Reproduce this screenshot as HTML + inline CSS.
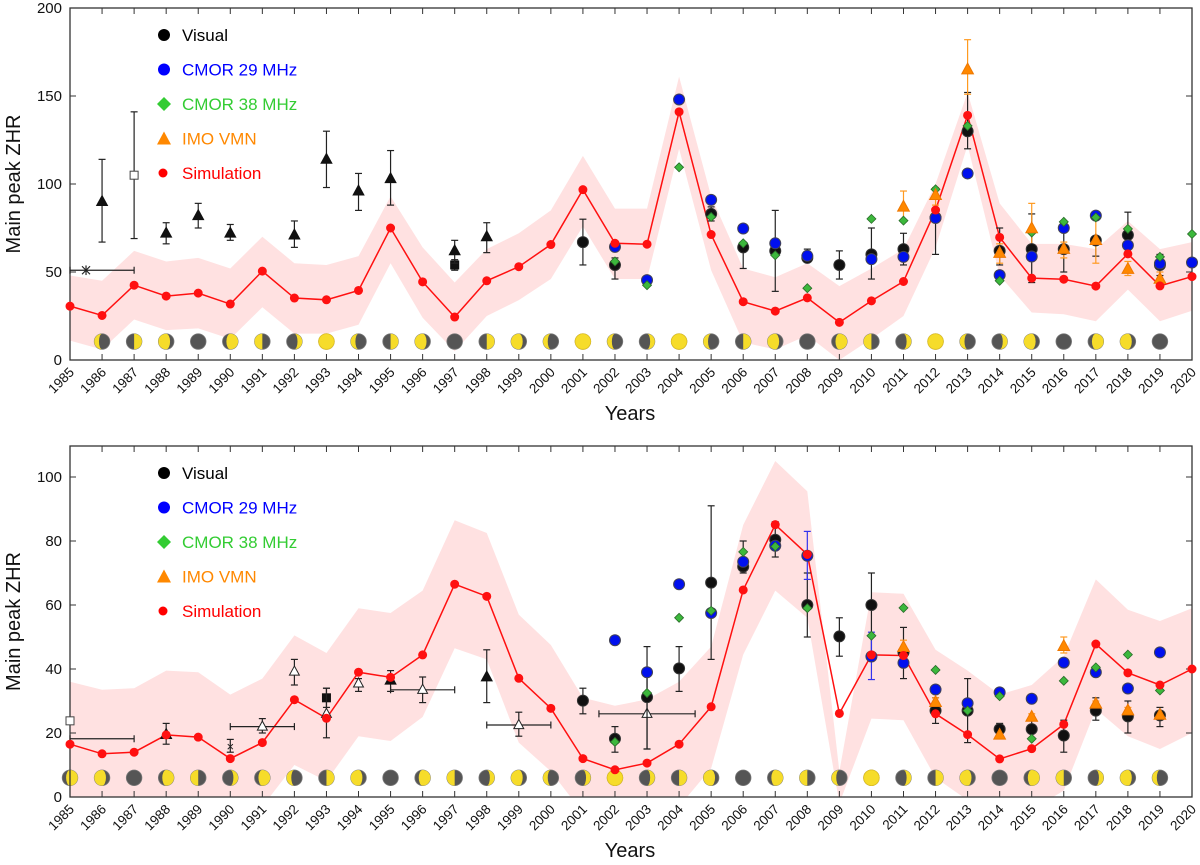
<!DOCTYPE html>
<html><head><meta charset="utf-8">
<style>
html,body{margin:0;padding:0;background:#fff;}
svg{display:block;font-family:"Liberation Sans","DejaVu Sans",sans-serif;}
</style></head>
<body>
<svg id="chart" width="1200" height="865" viewBox="0 0 1200 865"></svg>
<script>
// ===== Top panel data =====
const years = [1985,1986,1987,1988,1989,1990,1991,1992,1993,1994,1995,1996,1997,1998,1999,2000,2001,2002,2003,2004,2005,2006,2007,2008,2009,2010,2011,2012,2013,2014,2015,2016,2017,2018,2019,2020];
const topSim = [30.6,25.3,42.5,36.3,38,31.8,50.5,35.2,34.2,39.5,75,44.4,24.4,45,53,65.6,96.8,66.3,65.8,141,71.3,33.1,27.8,35.3,21.4,33.6,44.6,85.2,139,69.7,46.5,45.9,42,60.3,42.1,47.4];
const topUpper = [48,45,62,56,58,52,70,55,54,59,93,64,44,63,72,85,116,86,86,161,93,52,47,55,42,52,63,100,152,89,66,66,63,79,63,67];
const topLower = [11,6,23,17,18,12,30,15,15,20,55,24,5,25,34,46,76,46,46,120,51,10,6,14,0,12,25,64,122,48,27,26,22,40,22,28];
// [year, value, lo, hi]
const topVisual = [[2001,67,54,80],[2002,54,46,58],[2005,83,79,87],[2006,64,52,67],[2007,62,39,85],[2008,58,56,63],[2009,54,46,62],[2010,60,46,75],[2011,63,54,72],[2012,81,60,82],[2013,130,120,152],[2014,62,54,75],[2015,63,44,83],[2016,63,50,78],[2017,68,59,70],[2018,71,60,84],[2019,54,48,60]];
const topCmor29 = [[2002,64.3],[2003,45.4],[2004,148],[2005,91],[2006,74.7],[2007,66.3],[2008,59.2],[2010,57.3],[2011,58.6],[2012,80.7],[2013,106],[2014,48.2],[2015,58.8],[2016,75],[2017,82],[2018,65.2],[2019,54.8],[2020,55.4]];
const topCmor38 = [[2002,56],[2003,42.5],[2004,109.5],[2005,81.3],[2006,66.3],[2007,59.5],[2008,40.8],[2010,80.2],[2011,79.2],[2012,97],[2013,133],[2014,45],[2015,72.4],[2016,78.5],[2017,81],[2018,74.5],[2019,58.6],[2020,71.6]];
const topImo = [[2011,87,79,96],[2012,93.6,88,98],[2013,165,151,182],[2014,60.7,55,66],[2015,74.7,63,89],[2016,63,58,67],[2017,68,55,80],[2018,51.6,48,56],[2019,46,42,50]];
const topHistTri = [[1986,90,67,114],[1988,72,66,78],[1989,82,75,89],[1990,72,68,77],[1992,71,64,79],[1993,114,98,130],[1994,96,85,106],[1995,103,88,119],[1997,62,55,68],[1998,70,61,78]];
const topMoons = ['','cl','R','gl','N','gr','L','cr','F','cl','R','gl','N','R','gl','cl','F','cl','cr','F','cl','R','gl','N','gr','L','cr','F','cl','cr','gl','N','gr','gl','N',''];

// ===== Bottom panel data =====
const botSim = [16.5,13.5,14,19.4,18.7,12,17,30.4,24.6,39,37.4,44.4,66.5,62.7,37.1,27.7,12,8.5,10.6,16.5,28.2,64.7,85.1,75.8,26.1,44.4,44.2,26,19.5,11.9,15.1,22.7,47.8,38.8,35,40];
const botUpper = [36,33.5,34,39.5,39,32,37,50.5,45,59,57.5,64.5,86.5,82.5,57,47.5,31,28.5,30.5,36,47,85,105,95.5,8,64,63.5,46,39.5,32,35,44,68,58.5,55,59];
const botLower = [-3,-3,-3,-1,-1,-4,-3,10,5,19,17.5,25,46.5,43,17,8,-5,-8,-8,-3,9,44.5,64.5,56,-2,24.5,24,6,-1,-8,-4,2,27.5,19,15,20];
const botVisual = [[2001,30.1,26,34],[2002,18.2,14,22],[2003,31.2,15,47],[2004,40.2,33,47],[2005,67,43,91],[2006,72,70,80],[2007,80.4,75,86],[2008,60,50,70],[2009,50.2,44,56],[2010,60,44,70],[2011,45.2,37,53],[2012,27,23,31],[2013,27,17,37],[2014,21.2,19,23],[2015,21.2,18,24],[2016,19.2,14,24],[2017,27,24,31],[2018,25.2,20,30],[2019,25.5,22,28]];
const botCmor29 = [[2002,49],[2003,39],[2004,66.5],[2005,57.5],[2006,73.5],[2007,78.5],[2008,75.4],[2010,43.9],[2011,41.9],[2012,33.6],[2013,29.3],[2014,32.7],[2015,30.7],[2016,42],[2017,39],[2018,33.9],[2019,45.2]];
const botCmor29Err = [[2008,68,83],[2010,36.7,51.5]];
const botCmor38 = [[2002,17.2],[2003,32.5],[2004,56],[2005,58.2],[2006,76.6],[2007,78.3],[2008,59],[2010,50.4],[2011,59.1],[2012,39.7],[2013,27],[2014,31.5],[2015,18.2],[2016,36.3],[2017,40.5],[2018,44.5],[2019,33.3]];
const botImo = [[2011,46.8,44,49],[2012,29.6,28,31],[2014,19.4,19,20],[2015,25,24,26],[2016,47.1,45,50],[2017,29.1,28,30],[2018,27,26,28],[2019,25.6,25,26.5]];
const botFilledTri = [[1988,19.5,16.5,23],[1995,36.5,33,39.5],[1998,37.5,29.5,46]];
const botOpenTri = [[1991,22,20,24.5,1990,1992],[1992,39.2,35,43,0,0],[1993,26,18.5,34,0,0],[1994,35.5,33,37,0,0],[1996,33.5,29.5,37.5,1995,1997],[1999,22.5,19,26.5,1998,2000],[2003,26,15,38,2001.5,2004.5]];
const botMoons = ['gr','gl','N','gr','L','cr','gr','cl','R','gl','N','gr','L','cr','gl','cl','cr','F','cr','R','gl','N','gr','L','cl','F','cr','R','gl','N','gr','L','cr','gl','cl',''];

const NS='http://www.w3.org/2000/svg';
const svg=document.getElementById('chart');
function el(tag,attrs,parent){const e=document.createElementNS(NS,tag);for(const k in attrs)e.setAttribute(k,attrs[k]);(parent||svg).appendChild(e);return e;}

function panel(cfg){
  const X0=70,X1=1192;
  const x=y=>X0+(y-1985)*(X1-X0)/35;
  const yv=v=>cfg.yb-(v*cfg.scale);
  const g=el('g',{});
  
  
  const clip=el('clipPath',{id:cfg.name+'-clip'},g);
  el('rect',{x:X0,y:cfg.yt,width:X1-X0,height:cfg.yb-cfg.yt},clip);
  let pts=[];
  years.forEach((yr,i)=>pts.push(x(yr)+','+yv(cfg.upper[i])));
  for(let i=years.length-1;i>=0;i--)pts.push(x(years[i])+','+yv(Math.max(cfg.lower[i],-20)));
  const band=el('polygon',{points:pts.join(' '),fill:'#ffe1e1','clip-path':'url(#'+cfg.name+'-clip)'},g);
  
  
  cfg.moons.forEach((ph,i)=>{ if(!ph)return; drawMoon(g,x(years[i]),yv(cfg.moonV),7.8,ph);});
  const fr=el('rect',{x:X0,y:cfg.yt,width:X1-X0,height:cfg.yb-cfg.yt,fill:'none',stroke:'#333','stroke-width':1.3},g);
  
  
  years.forEach(yr=>{
    el('line',{x1:x(yr),x2:x(yr),y1:cfg.yb,y2:cfg.yb-6,stroke:'#333'},g);
    el('line',{x1:x(yr),x2:x(yr),y1:cfg.yt,y2:cfg.yt+6,stroke:'#333'},g);
    const t=el('text',{x:x(yr)+5,y:cfg.yb+13,'font-size':13.5,'text-anchor':'end',transform:`rotate(-45 ${x(yr)+5} ${cfg.yb+13})`,fill:'#111'},g);
    t.textContent=yr;
    
    
  });
  cfg.yticks.forEach(v=>{
    el('line',{x1:X0,x2:X0+6,y1:yv(v),y2:yv(v),stroke:'#333'},g);
    el('line',{x1:X1,x2:X1-6,y1:yv(v),y2:yv(v),stroke:'#333'},g);
    const t=el('text',{x:X0-8,y:yv(v)+5,'font-size':15,'text-anchor':'end',fill:'#111'},g);
    t.textContent=v;
    
    
  });
  const xt=el('text',{x:630,y:cfg.yb+60,'font-size':20,'text-anchor':'middle',fill:'#111'},g);
  xt.textContent='Years';
  
  
  const ymid=(cfg.yt+cfg.yb)/2;
  const yt=el('text',{x:20,y:ymid,'font-size':20,'text-anchor':'middle',transform:`rotate(-90 20 ${ymid})`,fill:'#111'},g);
  yt.textContent='Main peak ZHR';
  
  
  const lp=years.map((yr,i)=>x(yr)+','+yv(cfg.sim[i])).join(' ');
  const sl=el('polyline',{points:lp,fill:'none',stroke:'#ff1010','stroke-width':1.5},g);
  
  
  return {g,x,yv};
}

function errbar(g,x,y1,y2,col){
  el('line',{x1:x,x2:x,y1:y1,y2:y2,stroke:col,'stroke-width':1.2},g);
  el('line',{x1:x-3.5,x2:x+3.5,y1:y1,y2:y1,stroke:col,'stroke-width':1.2},g);
  el('line',{x1:x-3.5,x2:x+3.5,y1:y2,y2:y2,stroke:col,'stroke-width':1.2},g);
}
function hbar(g,x1,x2,y){
  el('line',{x1:x1,x2:x2,y1:y,y2:y,stroke:'#222','stroke-width':1.2},g);
  el('line',{x1:x1,x2:x1,y1:y-3.5,y2:y+3.5,stroke:'#222','stroke-width':1.2},g);
  el('line',{x1:x2,x2:x2,y1:y-3.5,y2:y+3.5,stroke:'#222','stroke-width':1.2},g);
}
function star(g,cx,cy,s){
  const a=el('g',{stroke:'#222','stroke-width':1.2},g);
  
  
  el('line',{x1:cx-s,x2:cx+s,y1:cy-s,y2:cy+s},a);
  el('line',{x1:cx-s,x2:cx+s,y1:cy+s,y2:cy-s},a);
  el('line',{x1:cx,x2:cx,y1:cy-s*1.2,y2:cy+s*1.2},a);
}
function tri(g,cx,cy,s,fill,stroke){
  return el('polygon',{points:`${cx},${cy-s} ${cx-s*0.9},${cy+s*0.65} ${cx+s*0.9},${cy+s*0.65}`,fill:fill,stroke:stroke,'stroke-width':1},g);
}
function diamond(g,cx,cy,s){
  return el('polygon',{points:`${cx},${cy-s} ${cx+s},${cy} ${cx},${cy+s} ${cx-s},${cy}`,fill:'#3cb83c',stroke:'#2a6a2a','stroke-width':0.8},g);
}
function drawMoon(g,cx,cy,r,ph){
  const m=el('g',{},g);
  
  
  el('circle',{cx:cx,cy:cy,r:r,fill:'#555',stroke:'#777','stroke-width':0.8},m);
  if(ph==='N')return;
  if(ph==='F'){el('circle',{cx:cx,cy:cy,r:r,fill:'#f6dc2a',stroke:'#e0c020','stroke-width':0.8},m);return;}
  const f={L:.5,R:.5,cl:.3,cr:.3,gl:.75,gr:.75}[ph];
  const left=ph.endsWith('L')||ph.endsWith('l');
  const rx=Math.max(0.01,r*Math.abs(2*f-1));
  let s1,s2;
  if(left){s1=0;s2=f>0.5?0:1;}else{s1=1;s2=f>0.5?1:0;}
  const d=`M${cx},${cy-r} A${r},${r} 0 0 ${s1} ${cx},${cy+r} A${rx},${r} 0 0 ${s2} ${cx},${cy-r} Z`;
  el('path',{d:d,fill:'#f6dc2a'},m);
}
function circ(g,cx,cy,fill,stroke,name){
  const c=el('circle',{cx:cx,cy:cy,r:5.5,fill:fill,stroke:stroke,'stroke-width':1},g);
  
  
  return c;
}

function legend(g,ys){
  const items=[['Visual','#000','circle'],['CMOR 29 MHz','#0000ff','circle'],['CMOR 38 MHz','#33cc33','diamond'],['IMO VMN','#ff8800','tri'],['Simulation','#ff0000','dot']];
  items.forEach((it,i)=>{
    const y=ys+i*34.5;
    const lg=el('g',{},g);
    
    
    if(it[2]==='circle')el('circle',{cx:164,cy:y,r:6,fill:it[1]},lg);
    if(it[2]==='diamond')el('polygon',{points:`164,${y-7} 171,${y} 164,${y+7} 157,${y}`,fill:it[1]},lg);
    if(it[2]==='tri')el('polygon',{points:`164,${y-7} 157,${y+6} 171,${y+6}`,fill:it[1]},lg);
    if(it[2]==='dot')el('circle',{cx:163,cy:y,r:4.5,fill:it[1]},lg);
    const t=el('text',{x:182,y:y+6,'font-size':17,fill:it[1]},lg);
    t.textContent=it[0];
  });
}

// ---- TOP ----
(function(){
  const P=panel({name:'top-panel',yt:8,yb:360,scale:1.76,upper:topUpper,lower:topLower,sim:topSim,moons:topMoons,moonV:10.5,yticks:[0,50,100,150,200]});
  const g=P.g,x=P.x,yv=P.yv;
  hbar(g,x(1985),x(1987),yv(51));
  star(g,x(1985.5),yv(51),4);
  errbar(g,x(1987),yv(69),yv(141),'#222');
  el('rect',{x:x(1987)-4,y:yv(105)-4,width:8,height:8,fill:'#fff',stroke:'#444'},g);
  errbar(g,x(1997),yv(51),yv(57),'#222');
  el('rect',{x:x(1997)-4.5,y:yv(54)-4.5,width:9,height:9,fill:'#111'},g);
  topHistTri.forEach(d=>{errbar(g,x(d[0]),yv(d[2]),yv(d[3]),'#222');const t=tri(g,x(d[0]),yv(d[1]),6,'#111','#111');});
  topVisual.forEach(d=>errbar(g,x(d[0]),yv(d[2]),yv(d[3]),'#222'));
  topImo.forEach(d=>errbar(g,x(d[0]),yv(d[2]),yv(d[3]),'#ff9a20'));
  topVisual.forEach(d=>circ(g,x(d[0]),yv(d[1]),'#111','#333','visual-point'));
  topCmor29.forEach(d=>circ(g,x(d[0]),yv(d[1]),'#0010ee','#445','cmor29-point'));
  topCmor38.forEach(d=>{const p=diamond(g,x(d[0]),yv(d[1]),4.5);});
  topImo.forEach(d=>{const t=tri(g,x(d[0]),yv(d[1]),6.5,'#ff8800','#ee7700');});
  years.forEach((yr,i)=>circ(g,x(yr),yv(topSim[i]),'#ff1010','#ff1010','simulation-point').setAttribute('r',4));
  legend(g,35);
})();

// ---- BOTTOM ----
(function(){
  const P=panel({name:'bottom-panel',yt:446,yb:797,scale:3.2,upper:botUpper,lower:botLower,sim:botSim,moons:botMoons,moonV:6,yticks:[0,20,40,60,80,100]});
  const g=P.g,x=P.x,yv=P.yv;
  hbar(g,x(1985),x(1987),yv(18.2));
  el('rect',{x:x(1985)-4,y:yv(23.8)-4,width:8,height:8,fill:'#fff',stroke:'#444'},g);
  errbar(g,x(1990),yv(14),yv(18),'#222');
  const xx=el('text',{x:x(1990),y:yv(16)+5,'font-size':13,'text-anchor':'middle',fill:'#222'},g);xx.textContent='×';
  errbar(g,x(1993),yv(28),yv(34),'#222');
  el('rect',{x:x(1993)-4.5,y:yv(31)-4.5,width:9,height:9,fill:'#111'},g);
  botOpenTri.forEach(d=>{if(d[4])hbar(g,x(d[4]),x(d[5]),yv(d[1]));errbar(g,x(d[0]),yv(d[2]),yv(d[3]),'#222');const t=tri(g,x(d[0]),yv(d[1]),5.5,'#fff','#222');});
  botFilledTri.forEach(d=>{errbar(g,x(d[0]),yv(d[2]),yv(d[3]),'#222');const t=tri(g,x(d[0]),yv(d[1]),6,'#111','#111');});
  botVisual.forEach(d=>errbar(g,x(d[0]),yv(d[2]),yv(d[3]),'#222'));
  botCmor29Err.forEach(d=>errbar(g,x(d[0]),yv(d[1]),yv(d[2]),'#3333ee'));
  botImo.forEach(d=>errbar(g,x(d[0]),yv(d[2]),yv(d[3]),'#ff9a20'));
  botVisual.forEach(d=>circ(g,x(d[0]),yv(d[1]),'#111','#333','visual-point'));
  botCmor29.forEach(d=>circ(g,x(d[0]),yv(d[1]),'#0010ee','#445','cmor29-point'));
  botCmor38.forEach(d=>{const p=diamond(g,x(d[0]),yv(d[1]),4.5);});
  botImo.forEach(d=>{const t=tri(g,x(d[0]),yv(d[1]),6.5,'#ff8800','#ee7700');});
  years.forEach((yr,i)=>circ(g,x(yr),yv(botSim[i]),'#ff1010','#ff1010','simulation-point').setAttribute('r',4));
  legend(g,473);
})();
</script>
</body></html>
